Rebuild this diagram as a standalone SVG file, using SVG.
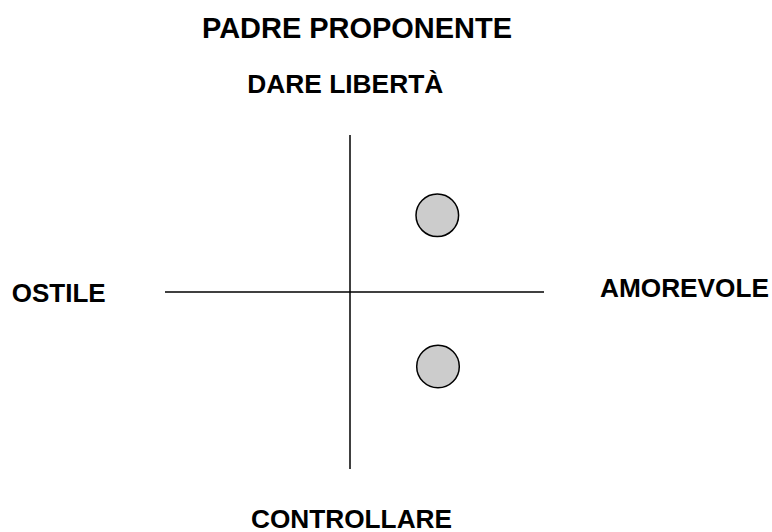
<svg xmlns="http://www.w3.org/2000/svg" width="772" height="532" viewBox="0 0 772 532">
<style>
.lbl{font-family:"Liberation Sans",Arial,sans-serif;font-weight:bold;fill:#000}
.ax{stroke:#000;stroke-width:1.5;fill:none}
.dot{fill:#cccccc;stroke:#000;stroke-width:1.5}
</style>
<rect width="772" height="532" fill="#fff"/>
<text class="lbl" x="202" y="37.5" font-size="29" textLength="310" lengthAdjust="spacingAndGlyphs">PADRE PROPONENTE</text>
<g id="axes">
<line class="ax" x1="350" y1="135" x2="350" y2="469"/>
<line class="ax" x1="165" y1="292" x2="544" y2="292"/>
</g>
<g id="top"><text class="lbl" x="247.3" y="92.5" font-size="26" textLength="196" lengthAdjust="spacingAndGlyphs">DARE LIBERTÀ</text></g>
<g id="bottom"><text class="lbl" x="251" y="527.5" font-size="26" textLength="201" lengthAdjust="spacingAndGlyphs">CONTROLLARE</text></g>
<g id="left"><text class="lbl" x="11.7" y="301.5" font-size="26" textLength="94" lengthAdjust="spacingAndGlyphs">OSTILE</text></g>
<g id="right"><text class="lbl" x="600" y="297.3" font-size="26" textLength="169" lengthAdjust="spacingAndGlyphs">AMOREVOLE</text></g>
<g id="dot1"><circle class="dot" cx="437.3" cy="215.3" r="21.3"/></g>
<g id="dot2"><circle class="dot" cx="438" cy="366.5" r="21.3"/></g>
</svg>
